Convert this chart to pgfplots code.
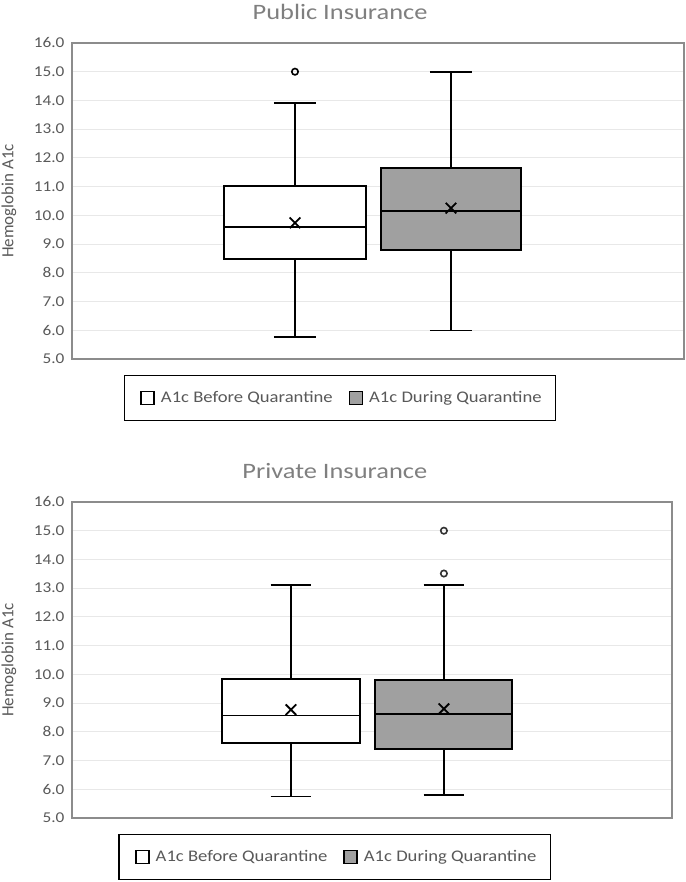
\documentclass[border=0pt]{standalone}
\usepackage{fontspec}
\setmainfont{Carlito}[FakeStretch=1.15]
\newfontfamily\titlefont{Carlito}[FakeStretch=1.2]
\newfontfamily\labelfont{Carlito}
\usepackage{pgfplots}
\pgfplotsset{compat=1.18}
\definecolor{txt}{HTML}{595959}
\definecolor{ttl}{HTML}{7F7F7F}
\definecolor{grd}{HTML}{E8E8E8}
\definecolor{frm}{HTML}{8C8C8C}
\definecolor{boxgray}{HTML}{A0A0A0}
\pgfplotsset{
  mystyle/.style={
    scale only axis, anchor=south west, height=316pt,
    ymin=5, ymax=16, ytick distance=1, xtick=\empty,
    ymajorgrids, major grid style={grd, line width=1pt},
    axis line style={frm, line width=1.5pt},
    major tick length=0pt,
    unbounded coords=jump,
    yticklabel={\pgfmathprintnumber[fixed,fixed zerofill,precision=1,assume math mode=true]{\tick}},
    yticklabel style={font=\fontsize{15}{18}\selectfont, text=txt, xshift=-4pt},
    ylabel={Hemoglobin A1c},
    ylabel style={font=\labelfont\fontsize{17}{20}\selectfont, text=txt, at={(axis description cs:-0.103,0.5)}, anchor=center},
    title style={font=\titlefont\fontsize{22}{26}\selectfont, text=ttl, at={(axis description cs:0.438,1)}, anchor=base, yshift=17pt, inner sep=0pt},
    legend style={at={(axis description cs:0.438,-0.0506)}, anchor=north, legend columns=2, draw=black, line width=1.5pt,
      font=\fontsize{16.2}{19}\selectfont, text=txt, inner xsep=12pt, inner ysep=14pt,
      /tikz/every odd column/.append style={column sep=4pt},
      /tikz/every even column/.append style={column sep=10pt}},
    legend image code/.code={\path (-4pt,0pt); \draw[#1, line width=1.5pt] (0pt,-6.5pt) rectangle (13pt,6.5pt);},
    boxst/.style={draw=black, line width=2pt, mark=none},
    whst/.style={black, line width=1.8pt, mark=none},
    meanst/.style={only marks, mark=x, mark size=7.5pt, mark options={draw=black, line width=1.8pt}},
  }
}
\begin{document}
\begin{tikzpicture}
\useasboundingbox (0,0) rectangle (685pt,882pt);
% ---------- Public Insurance ----------
\begin{axis}[mystyle, at={(72pt,523pt)}, width=612pt, xmin=-0.4295, xmax=3.494,
  title={Public Insurance}]
\addlegendimage{draw=black, fill=white}
\addlegendentry{A1c Before Quarantine}
\addlegendimage{draw=black, fill=boxgray}
\addlegendentry{A1c During Quarantine}
% Before: lw 5.77, q1 8.49, med 9.59, mean 9.74, q3 11.03, uw 13.91, outlier 15.0
\addplot[boxst, fill=white] coordinates {(0.5475,8.49) (1.4525,8.49) (1.4525,11.03) (0.5475,11.03)} -- cycle;
\addplot[whst] coordinates {(0.5475,9.59) (1.4525,9.59) (nan,nan)
  (1,11.03) (1,13.91) (nan,nan) (0.865,13.91) (1.135,13.91) (nan,nan)
  (1,8.49) (1,5.77) (nan,nan) (0.865,5.77) (1.135,5.77)};
\addplot[meanst] coordinates {(1,9.74)};
\addplot[only marks, mark=o, mark size=3.2pt, mark options={fill=white, draw=black, line width=1.6pt}] coordinates {(1,15.0)};
% During: lw 5.99, q1 8.79, med 10.14, mean 10.25, q3 11.66, uw 15.0
\addplot[boxst, fill=boxgray] coordinates {(1.55,8.79) (2.45,8.79) (2.45,11.66) (1.55,11.66)} -- cycle;
\addplot[whst] coordinates {(1.55,10.14) (2.45,10.14) (nan,nan)
  (2,11.66) (2,15.0) (nan,nan) (1.865,15.0) (2.135,15.0) (nan,nan)
  (2,8.79) (2,5.99) (nan,nan) (1.865,5.99) (2.135,5.99)};
\addplot[meanst] coordinates {(2,10.25)};
\end{axis}
% ---------- Private Insurance ----------
\begin{axis}[mystyle, at={(72pt,64pt)}, width=600pt, xmin=-0.431, xmax=3.491,
  title={Private Insurance},
  ylabel style={at={(axis description cs:-0.105,0.5)}}]
\addlegendimage{draw=black, fill=white}
\addlegendentry{A1c Before Quarantine}
\addlegendimage{draw=black, fill=boxgray}
\addlegendentry{A1c During Quarantine}
% Before: lw 5.75, q1 7.61, med 8.57, mean 8.77, q3 9.85, uw 13.10
\addplot[boxst, fill=white] coordinates {(0.5475,7.61) (1.4525,7.61) (1.4525,9.85) (0.5475,9.85)} -- cycle;
\addplot[whst] coordinates {(0.5475,8.57) (1.4525,8.57) (nan,nan)
  (1,9.85) (1,13.10) (nan,nan) (0.867,13.10) (1.133,13.10) (nan,nan)
  (1,7.61) (1,5.75) (nan,nan) (0.867,5.75) (1.133,5.75)};
\addplot[meanst] coordinates {(1,8.77)};
% During: lw 5.81, q1 7.39, med 8.62, mean 8.80, q3 9.79, uw 13.10, outliers 13.51, 15.0
\addplot[boxst, fill=boxgray] coordinates {(1.5525,7.39) (2.4475,7.39) (2.4475,9.79) (1.5525,9.79)} -- cycle;
\addplot[whst] coordinates {(1.5525,8.62) (2.4475,8.62) (nan,nan)
  (2,9.79) (2,13.10) (nan,nan) (1.867,13.10) (2.133,13.10) (nan,nan)
  (2,7.39) (2,5.81) (nan,nan) (1.867,5.81) (2.133,5.81)};
\addplot[meanst] coordinates {(2,8.80)};
\addplot[only marks, mark=o, mark size=3.2pt, mark options={fill=boxgray, draw=black!80, line width=1.6pt}] coordinates {(2,13.51) (2,15.0)};
\end{axis}
\end{tikzpicture}
\end{document}
